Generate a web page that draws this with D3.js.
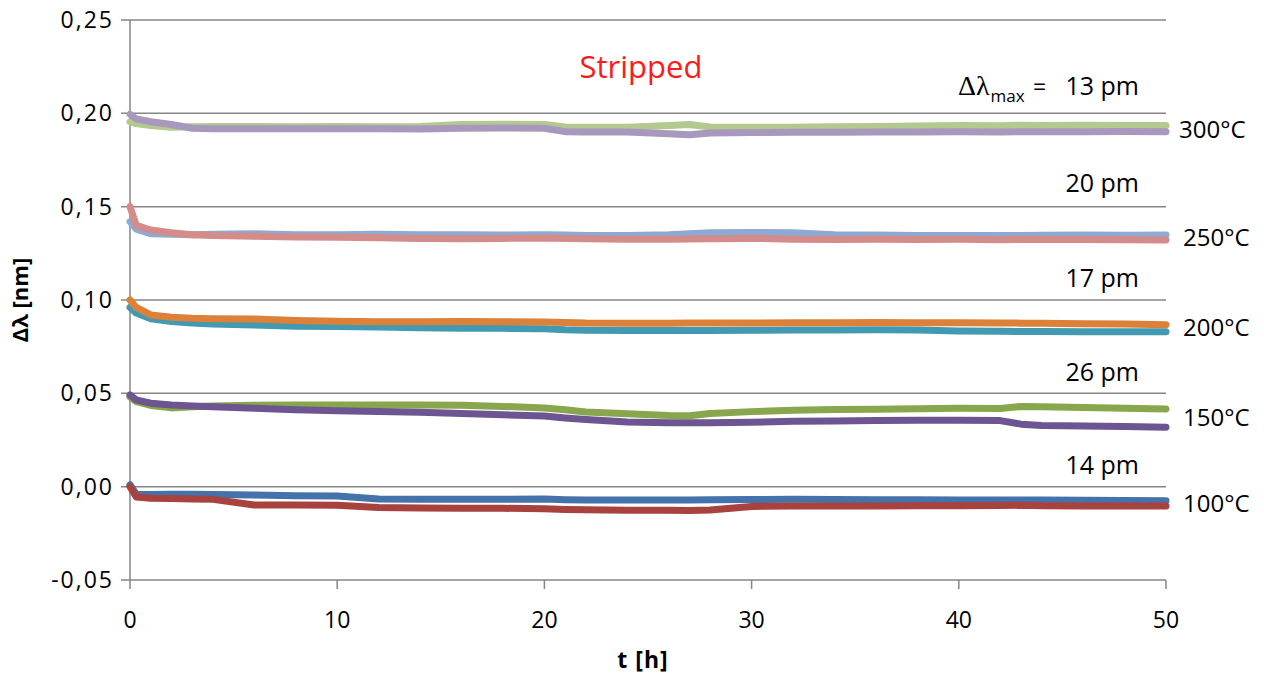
<!DOCTYPE html>
<html><head><meta charset="utf-8">
<script src="https://cdn.jsdelivr.net/npm/d3@7"></script>
<style>body{margin:0;background:#fff}svg{display:block}text{font-family:"Open Sans",sans-serif}</style>
</head><body><svg id="c" width="1264" height="674"></svg>
<script>
const times = [0,0.3,1,2,3,4,6,8,10,12,14,16,18,20,21,22,24,26,27,28,30,32,34,36,38,40,42,43,44,46,48,50];
const g300 = [0.1955,0.1945,0.1935,0.1925,0.1928,0.1930,0.1930,0.1928,0.1929,0.1928,0.1930,0.1940,0.1942,0.1940,0.1927,0.1925,0.1925,0.1935,0.1940,0.1927,0.1926,0.1925,0.1928,0.1930,0.1932,0.1935,0.1934,0.1936,0.1935,0.1936,0.1935,0.1935];
const p300 = [0.1995,0.1970,0.1955,0.1940,0.1920,0.1918,0.1918,0.1917,0.1918,0.1917,0.1916,0.1920,0.1922,0.1920,0.1902,0.1900,0.1900,0.1890,0.1885,0.1895,0.1897,0.1898,0.1898,0.1900,0.1900,0.1902,0.1900,0.1902,0.1901,0.1902,0.1903,0.1902];
const b250 = [0.1420,0.1380,0.1355,0.1352,0.1350,0.1352,0.1355,0.1350,0.1350,0.1352,0.1350,0.1350,0.1348,0.1350,0.1348,0.1346,0.1345,0.1350,0.1355,0.1360,0.1362,0.1360,0.1350,0.1348,0.1346,0.1345,0.1345,0.1346,0.1347,0.1348,0.1347,0.1348];
const r250 = [0.1500,0.1400,0.1375,0.1360,0.1350,0.1345,0.1342,0.1338,0.1336,0.1334,0.1330,0.1328,0.1330,0.1332,0.1330,0.1328,0.1326,0.1326,0.1327,0.1328,0.1330,0.1326,0.1324,0.1325,0.1324,0.1325,0.1323,0.1325,0.1324,0.1324,0.1323,0.1322];
const o200 = [0.1000,0.0960,0.0920,0.0908,0.0902,0.0900,0.0898,0.0890,0.0886,0.0884,0.0884,0.0885,0.0884,0.0882,0.0880,0.0877,0.0876,0.0876,0.0877,0.0877,0.0877,0.0878,0.0878,0.0879,0.0878,0.0878,0.0877,0.0876,0.0875,0.0873,0.0871,0.0868];
const t200 = [0.0960,0.0930,0.0900,0.0885,0.0877,0.0872,0.0866,0.0860,0.0858,0.0856,0.0852,0.0849,0.0848,0.0846,0.0840,0.0838,0.0837,0.0836,0.0836,0.0837,0.0838,0.0839,0.0839,0.0840,0.0839,0.0834,0.0832,0.0831,0.0831,0.0830,0.0830,0.0830];
const g150 = [0.0480,0.0455,0.0435,0.0422,0.0428,0.0432,0.0436,0.0438,0.0438,0.0438,0.0437,0.0436,0.0430,0.0422,0.0412,0.0400,0.0390,0.0381,0.0380,0.0392,0.0402,0.0410,0.0413,0.0415,0.0418,0.0420,0.0419,0.0430,0.0428,0.0424,0.0420,0.0416];
const p150 = [0.0491,0.0465,0.0447,0.0438,0.0432,0.0428,0.0420,0.0412,0.0407,0.0403,0.0398,0.0392,0.0385,0.0378,0.0368,0.0360,0.0346,0.0343,0.0342,0.0342,0.0345,0.0350,0.0352,0.0354,0.0356,0.0356,0.0354,0.0335,0.0328,0.0325,0.0322,0.0318];
const b100 = [0.0010,-0.0040,-0.0042,-0.0040,-0.0041,-0.0042,-0.0044,-0.0048,-0.0050,-0.0066,-0.0068,-0.0068,-0.0068,-0.0066,-0.0070,-0.0072,-0.0071,-0.0072,-0.0072,-0.0070,-0.0069,-0.0068,-0.0069,-0.0070,-0.0070,-0.0071,-0.0071,-0.0072,-0.0072,-0.0073,-0.0074,-0.0075];
const r100 = [0.0000,-0.0055,-0.0062,-0.0064,-0.0066,-0.0068,-0.0098,-0.0098,-0.0100,-0.0112,-0.0114,-0.0115,-0.0116,-0.0118,-0.0122,-0.0124,-0.0126,-0.0126,-0.0128,-0.0125,-0.0106,-0.0104,-0.0104,-0.0103,-0.0102,-0.0102,-0.0101,-0.0100,-0.0102,-0.0104,-0.0104,-0.0104];

const seriesList = [
  {v:g300,c:"#b3c98f"},{v:p300,c:"#a898bd"},
  {v:b250,c:"#8ea9d4"},{v:r250,c:"#d38c8a"},
  {v:t200,c:"#4299b2"},{v:o200,c:"#dd8139"},
  {v:g150,c:"#88a64c"},{v:p150,c:"#6c5590"},
  {v:b100,c:"#4472aa"},{v:r100,c:"#a8423f"}
];
const xTicks = [0,10,20,30,40,50];
const yTicks = [-0.05,0,0.05,0.10,0.15,0.20,0.25];
const yTickLabels = ["-0,05","0,00","0,05","0,10","0,15","0,20","0,25"];
const tempLabels = ["300°C","250°C","200°C","150°C","100°C"];
const tempY = [0.1915,0.1340,0.0855,0.0375,-0.0085];
const maxLabels = ["13 pm","20 pm","17 pm","26 pm","14 pm"];
const maxY = [0.2140,0.1620,0.1110,0.0610,0.0110];

const svg = d3.select("#c");
const x = d3.scaleLinear().domain([0,50]).range([130,1166]);
const y = d3.scaleLinear().domain([-0.05,0.25]).range([580,20]);
const grid = "#868686";

svg.append("g").selectAll("line").data(yTicks).join("line")
  .attr("x1",121).attr("x2",1166).attr("y1",d=>y(d)).attr("y2",d=>y(d))
  .attr("stroke",grid).attr("stroke-width",1.5);
svg.append("line").attr("x1",x(0)).attr("x2",x(0)).attr("y1",y(0.25)).attr("y2",y(-0.05)+1)
  .attr("stroke",grid).attr("stroke-width",1.5);
svg.append("g").selectAll("line").data(xTicks).join("line")
  .attr("x1",d=>x(d)).attr("x2",d=>x(d)).attr("y1",y(-0.05)).attr("y2",y(-0.05)+9)
  .attr("stroke",grid).attr("stroke-width",1.5);

svg.append("g").selectAll("text").data(yTicks).join("text")
  .attr("x",114).attr("y",d=>y(d)+8).attr("text-anchor","end")
  .attr("font-size",23).attr("letter-spacing",2).attr("fill","#000").text((d,i)=>yTickLabels[i]);
svg.append("g").selectAll("text").data(xTicks).join("text")
  .attr("x",d=>x(d)).attr("y",628).attr("text-anchor","middle")
  .attr("font-size",23).attr("fill","#000").text(d=>d);

svg.append("text").attr("x",643).attr("y",668).attr("text-anchor","middle")
  .attr("font-size",23).attr("font-weight","bold").attr("letter-spacing",1).text("t [h]");
svg.append("text").attr("transform","translate(28,300) rotate(-90)").attr("text-anchor","middle")
  .attr("font-size",22).attr("font-weight","bold").text("Δλ [nm]");

const line = d3.line().x((d,i)=>x(times[i])).y(d=>y(d)).curve(d3.curveLinear);
svg.append("g").selectAll("path").data(seriesList).join("path")
  .attr("d",s=>line(s.v)).attr("fill","none").attr("stroke",s=>s.c)
  .attr("stroke-width",7).attr("stroke-linejoin","round").attr("stroke-linecap","round");

svg.append("text").attr("x",641).attr("y",78).attr("text-anchor","middle")
  .attr("font-size",31).attr("fill","#ff1a1a").text("Stripped");

svg.append("g").selectAll("text").data(tempLabels).join("text")
  .attr("x",(d,i)=>i===0?1179:1183).attr("y",(d,i)=>y(tempY[i])+9)
  .attr("font-size",24).attr("fill","#000").text(d=>d);

svg.append("g").selectAll("text").data(maxLabels.slice(1)).join("text")
  .attr("x",1139).attr("y",(d,i)=>y(maxY[i+1])+8).attr("text-anchor","end")
  .attr("font-size",25).attr("fill","#000").text(d=>d);
const topY = y(maxY[0])+8;
const pre = svg.append("text").attr("x",958).attr("y",topY).attr("font-size",23).attr("fill","#000");
pre.append("tspan").attr("font-family","'Liberation Serif','DejaVu Serif',serif").attr("font-size",28).text("Δλ");
pre.append("tspan").attr("font-size",17).attr("dy",7).attr("dx",1).text("max");
svg.append("text").attr("x",1033).attr("y",topY).attr("font-size",23).attr("fill","#000").text("=");
svg.append("text").attr("x",1139).attr("y",topY).attr("text-anchor","end").attr("font-size",25).attr("fill","#000").text(maxLabels[0]);
</script></body></html>
